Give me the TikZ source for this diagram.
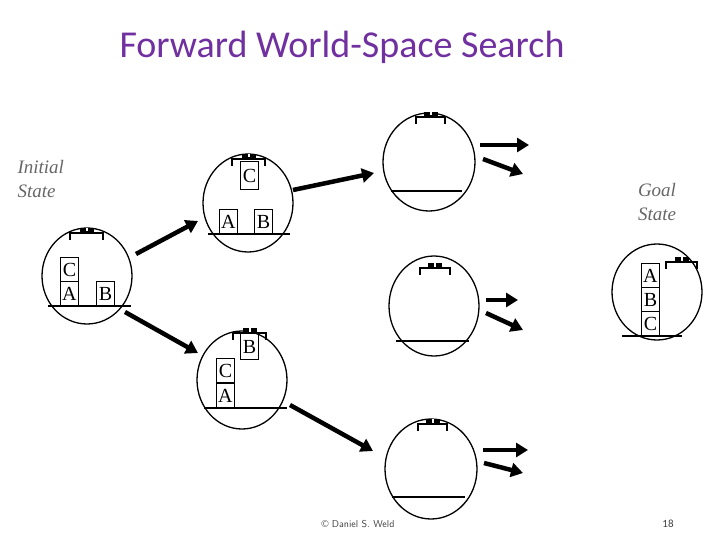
\documentclass[tikz,border=0pt]{standalone}
\usepackage{fontspec}
\setmainfont{Liberation Serif}
\newfontfamily\titlefont{Carlito}
\usetikzlibrary{arrows.meta,shapes.geometric}
\newcommand\mygrip[3]{%
  \draw[line width=2.6pt] (#1,#3+7) -- (#1,#3) -- (#2,#3) -- (#2,#3+7);
  \fill ({(#1+#2)/2-7},#3-1) rectangle ({(#1+#2)/2+7},#3-5);
  \fill[white] ({(#1+#2)/2-1},#3-1.5) rectangle ({(#1+#2)/2+1},#3-5);
}
\tikzset{
  world/.style={draw,line width=1.3pt,ellipse,inner sep=0pt},
  ground/.style={line width=1.3pt},
  blk/.style={draw,line width=0.9pt,minimum width=18pt,minimum height=24pt,inner sep=0pt,font=\fontsize{20}{20}\selectfont,anchor=south west},
  bigarrow/.style={line width=4.5pt,-{Triangle[length=12pt,width=14pt]}},
  lbl/.style={font=\itshape\fontsize{19}{24}\selectfont,text=black!60,align=left}
}
\begin{document}
\begin{tikzpicture}[x=1pt,y=-1pt]
\useasboundingbox (0,0) rectangle (720,540);
\node[font=\titlefont\fontsize{38}{40}\selectfont,text={rgb,255:red,112;green,48;blue,160}] (title) at (342,47) {Forward World-Space Search};
\node[lbl,anchor=west] (init) at (14,179) {Initial\\State};
\node[lbl,align=center] (goal) at (657,202) {Goal\\State};
% initial
\node[world,minimum width=90pt,minimum height=96pt] (w0) at (87,276) {};
\draw[ground] (48,306) -- (131,306);
\mygrip{70}{103}{233}
\node[blk] (a0) at (60,306) {A};
\node[blk] (c0) at (60,282) {C};
\node[blk] (b0) at (96,306) {B};
% top middle
\node[world,minimum width=90pt,minimum height=98pt] (w1) at (248,203) {};
\draw[ground] (208,234) -- (290,234);
\mygrip{232}{265}{159}
\node[blk,minimum height=28pt] (c1) at (240,190) {C};
\node[blk] (a1) at (219,234) {A};
\node[blk] (b1) at (254,234) {B};
% bottom middle
\node[world,minimum width=90pt,minimum height=98pt] (w2) at (242,380) {};
\draw[ground] (204,408) -- (287,408);
\mygrip{233}{266}{333}
\node[blk,minimum height=26pt] (b2) at (240,360) {B};
\node[blk] (a2) at (216,408) {A};
\node[blk] (c2) at (216,383) {C};
% right column
\node[world,minimum width=92pt,minimum height=98pt] (w3) at (429,162) {};
\draw[ground] (391,191) -- (462,191);
\mygrip{416}{445}{117}
\node[world,minimum width=90pt,minimum height=100pt] (w4) at (434,306) {};
\draw[ground] (396,341) -- (469,341);
\mygrip{420}{450}{268}
\node[world,minimum width=92pt,minimum height=100pt] (w5) at (431,469) {};
\draw[ground] (392,497) -- (465,497);
\mygrip{418}{447}{424}
% goal
\node[world,minimum width=90pt,minimum height=96pt] (wg) at (657,292) {};
\draw[ground] (622,336) -- (682,336);
\node[blk] (cg) at (641,336) {C};
\node[blk] (bg) at (641,312) {B};
\node[blk] (ag) at (641,288) {A};
\mygrip{666}{697}{262}
% arrows
\coordinate (p1) at (136,254); \coordinate (q1) at (198,221);
\coordinate (p2) at (125,312); \coordinate (q2) at (198,353);
\coordinate (p3) at (293,190); \coordinate (q3) at (374,173);
\coordinate (p4) at (290,405); \coordinate (q4) at (373,451);
\draw[bigarrow] (p1) -- (q1);
\draw[bigarrow] (p2) -- (q2);
\draw[bigarrow] (p3) -- (q3);
\draw[bigarrow] (p4) -- (q4);
\coordinate (s1) at (480,145); \coordinate (t1) at (529,145);
\coordinate (s2) at (483,159); \coordinate (t2) at (523,174);
\coordinate (s3) at (486,300); \coordinate (t3) at (518,300);
\coordinate (s4) at (486,313); \coordinate (t4) at (523,330);
\coordinate (s5) at (483,450); \coordinate (t5) at (528,450);
\coordinate (s6) at (484,463); \coordinate (t6) at (523,473);
\foreach \a/\b in {s1/t1,s2/t2,s3/t3,s4/t4,s5/t5,s6/t6}
  \draw[bigarrow] (\a) -- (\b);
\node[font=\sffamily\fontsize{10}{12}\selectfont,text=black!75] (copy) at (358,524) {© Daniel S. Weld};
\node[font=\titlefont\fontsize{11}{12}\selectfont,text=black!75] (num) at (668,524) {18};
\end{tikzpicture}
\end{document}
